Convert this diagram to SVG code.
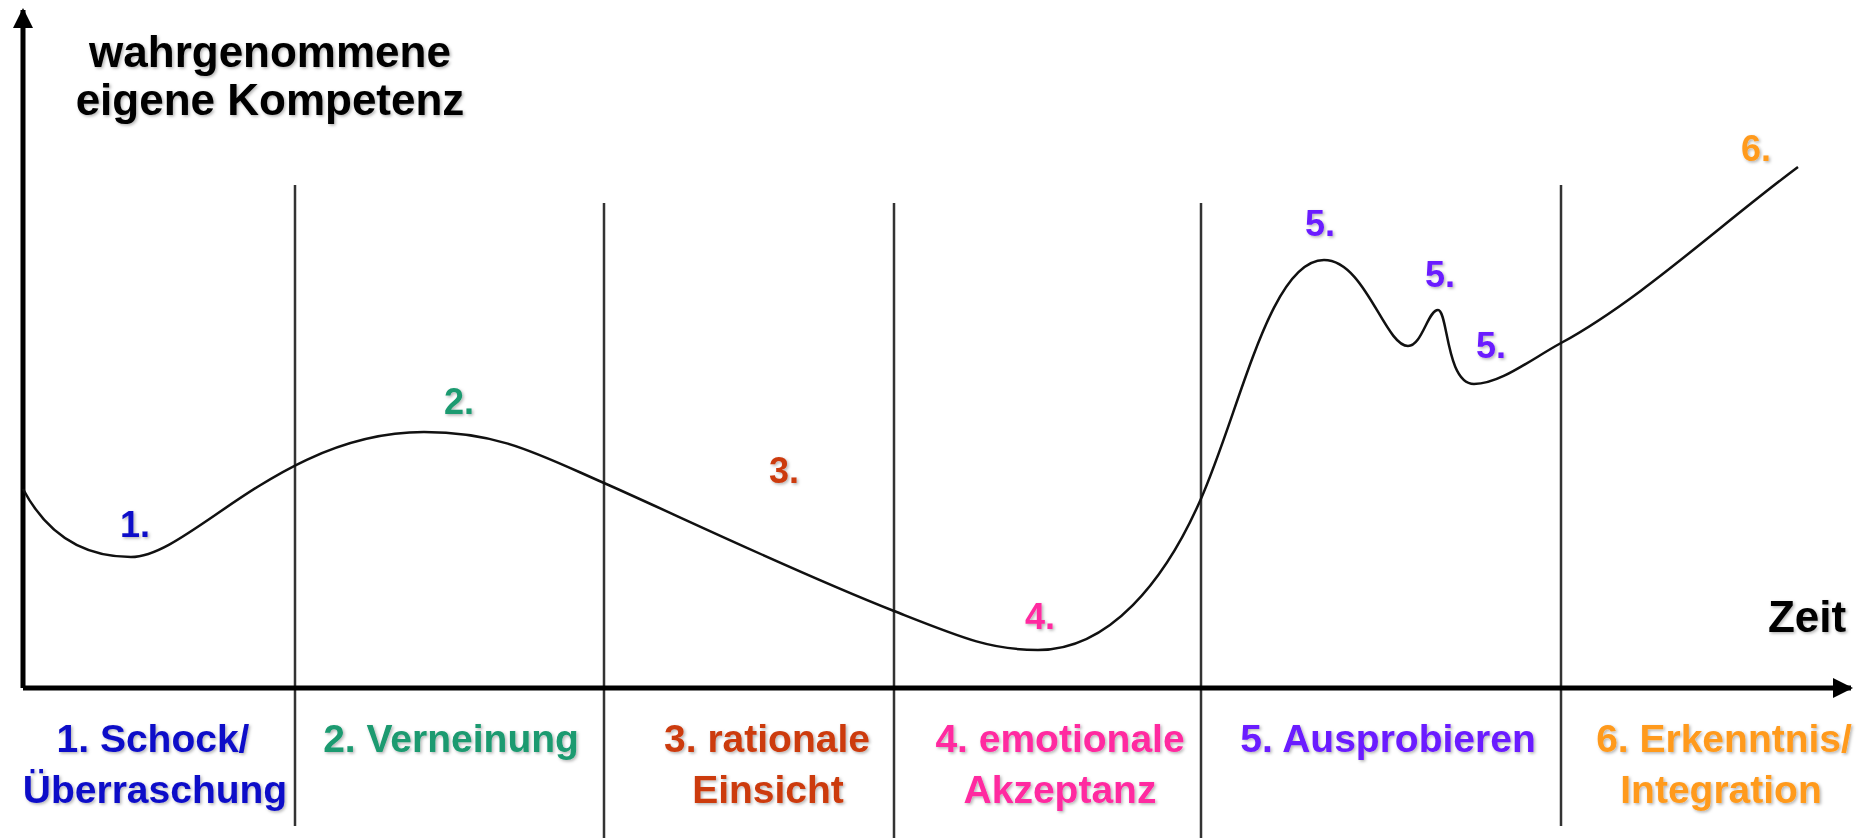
<svg xmlns="http://www.w3.org/2000/svg" width="1871" height="838" viewBox="0 0 1871 838">
<defs>
<style>
text{font-family:"Liberation Sans",Arial,sans-serif;font-weight:bold;text-anchor:middle}
.ax{font-size:44px;fill:#000}
.ph{font-size:39px}
.nm{font-size:36px}
.c1{fill:#1010c8}.c2{fill:#1a9a70}.c3{fill:#cc3a10}.c4{fill:#ff2aa0}.c5{fill:#6a1aff}.c6{fill:#ff9a1e}
.sep{stroke:#333;stroke-width:2.5;fill:none}
.axis{stroke:#000;stroke-width:5;fill:none}
</style>
<filter id="sh" x="-10%" y="-20%" width="120%" height="140%">
<feDropShadow dx="1.5" dy="1.5" stdDeviation="1.5" flood-color="#000" flood-opacity="0.3"/>
</filter>
<marker id="ah" viewBox="0 0 10 10" refX="9" refY="5" markerWidth="4" markerHeight="4" orient="auto" markerUnits="strokeWidth">
<path d="M0,0 L10,5 L0,10 z" fill="#000"/>
</marker>
</defs>
<rect width="1871" height="838" fill="#fff"/>
<g id="connectors">
<line class="sep" x1="295" y1="185" x2="295" y2="826"/>
<line class="sep" x1="604" y1="203" x2="604" y2="838"/>
<line class="sep" x1="894" y1="203" x2="894" y2="838"/>
<line class="sep" x1="1201" y1="203" x2="1201" y2="838"/>
<line class="sep" x1="1561" y1="185" x2="1561" y2="826"/>
<path class="axis" d="M23,688 L23,10" marker-end="url(#ah)"/>
<path class="axis" d="M23,688 L1851,688" marker-end="url(#ah)"/>
<path id="curve" fill="none" stroke="#111" stroke-width="2.5" d="M23,489 C50,540 90,557 131,557 C190,557 280,432 424,432 C500,432 540,455 604,483 C668,511 790,570 894,611 C960,637 990,650 1038,650 C1110,650 1165,580 1200,501 C1240,411 1270,260 1324,260 C1365,260 1385,346 1408,346 C1422,346 1428,310 1438,310 C1448,310 1446,384 1474,384 C1500,384 1530,360 1561,343 C1640,300 1720,225 1798,167"/>
</g>
<g id="axis-labels" filter="url(#sh)">
<text class="ax" x="270" y="67">wahrgenommene</text>
<text class="ax" x="270" y="115">eigene Kompetenz</text>
<text class="ax" x="1807" y="632">Zeit</text>
</g>
<g id="phase1" filter="url(#sh)">
<text class="ph c1" x="153" y="752">1. Schock/</text>
<text class="ph c1" x="155" y="803">Überraschung</text>
<text class="nm c1" x="135" y="537">1.</text>
</g>
<g id="phase2" filter="url(#sh)">
<text class="ph c2" x="451" y="752">2. Verneinung</text>
<text class="nm c2" x="459" y="414">2.</text>
</g>
<g id="phase3" filter="url(#sh)">
<text class="ph c3" x="767" y="752">3. rationale</text>
<text class="ph c3" x="768" y="803">Einsicht</text>
<text class="nm c3" x="784" y="483">3.</text>
</g>
<g id="phase4" filter="url(#sh)">
<text class="ph c4" x="1060" y="752">4. emotionale</text>
<text class="ph c4" x="1060" y="803">Akzeptanz</text>
<text class="nm c4" x="1040" y="629">4.</text>
</g>
<g id="phase5" filter="url(#sh)">
<text class="ph c5" x="1388" y="752">5. Ausprobieren</text>
<text class="nm c5" x="1320" y="236">5.</text>
<text class="nm c5" x="1440" y="287">5.</text>
<text class="nm c5" x="1491" y="358">5.</text>
</g>
<g id="phase6" filter="url(#sh)">
<text class="ph c6" x="1724" y="752">6. Erkenntnis/</text>
<text class="ph c6" x="1721" y="803">Integration</text>
<text class="nm c6" x="1756" y="161">6.</text>
</g>
</svg>
